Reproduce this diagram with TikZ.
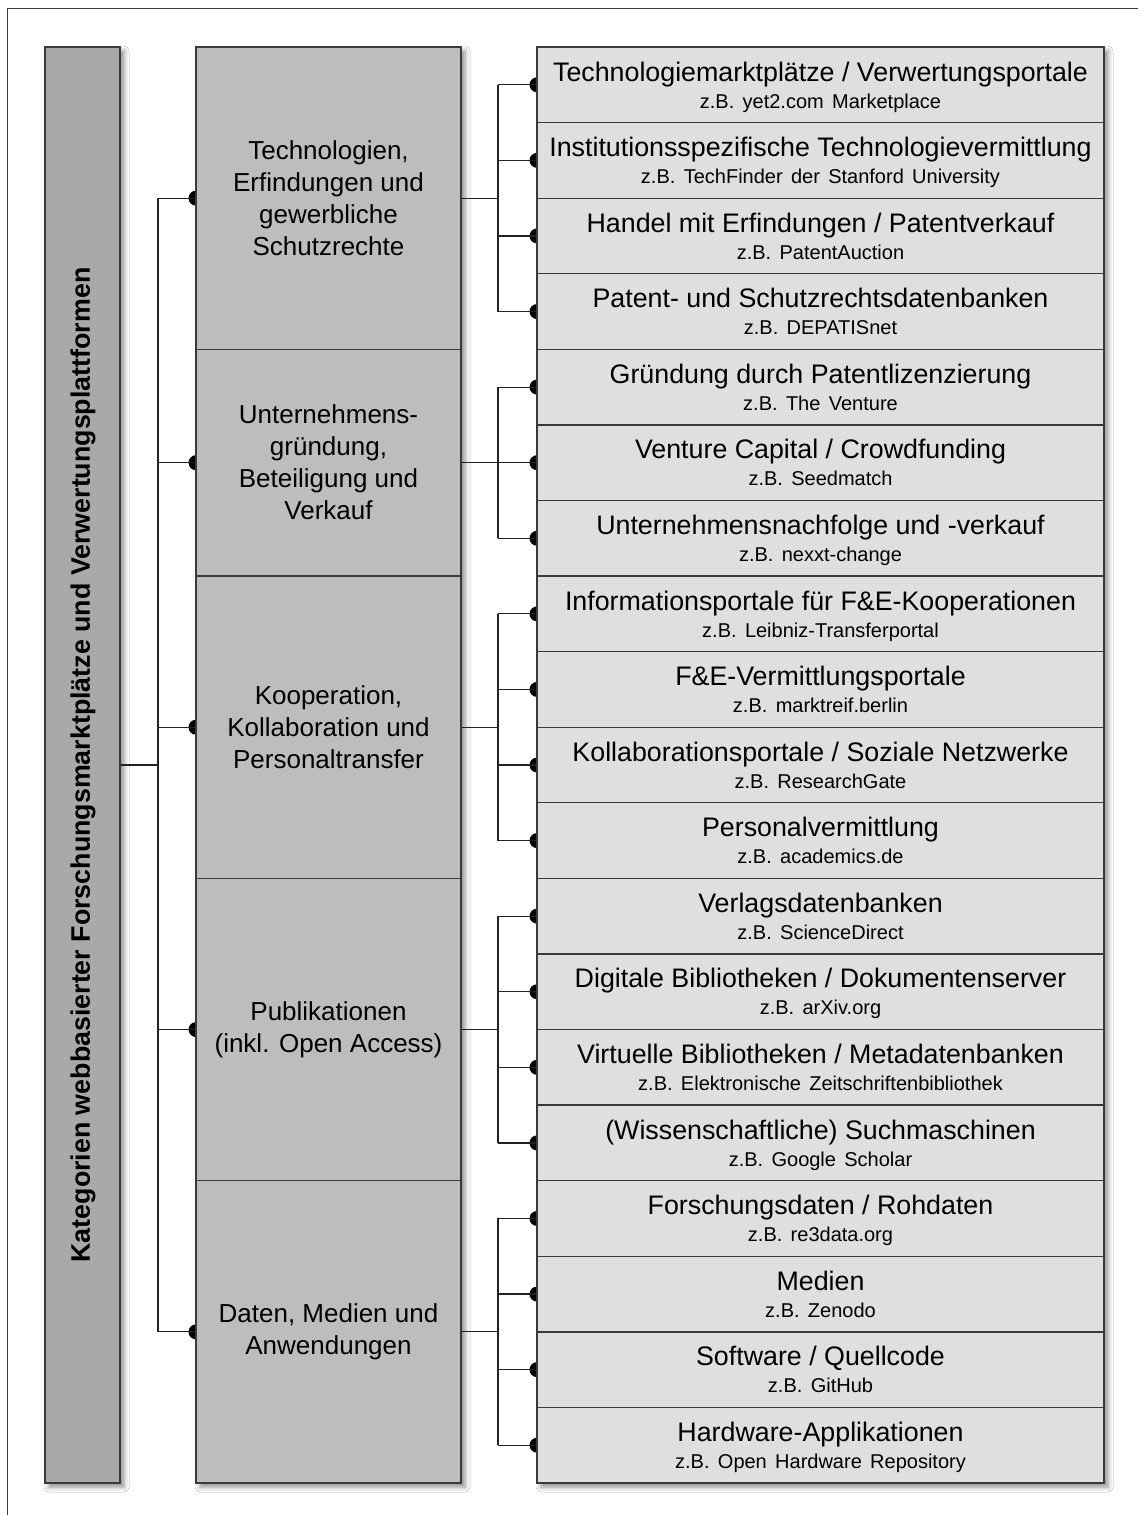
\documentclass[tikz,border=0pt]{standalone}
\usepackage{fontspec}
\setmainfont{Liberation Sans}
\newfontfamily\subfont[WordSpace=1.5]{Liberation Sans}
\usetikzlibrary{shadows.blur}

\definecolor{barfill}{HTML}{A9A9A9}
\definecolor{catfill}{HTML}{BDBDBD}
\definecolor{itemfill}{HTML}{DFDFDF}
\definecolor{edgegray}{HTML}{3A3A3A}
\definecolor{wire}{HTML}{222222}

\tikzset{
  colshadow/.style={fill=white, blur shadow={shadow xshift=4pt, shadow yshift=-4pt,
      shadow blur radius=5pt, shadow opacity=45}},
  barbox/.style={draw=edgegray, line width=1.3pt, fill=barfill, inner sep=0pt,
      minimum width=75pt, minimum height=1436pt},
  catbox/.style={draw=edgegray, line width=1.3pt, fill=catfill, inner sep=0pt,
      minimum width=265pt, align=center, font=\fontsize{26}{32}\selectfont},
  itembox/.style={draw=edgegray, line width=1.3pt, fill=itemfill, inner sep=0pt,
      minimum width=567pt, minimum height=75.579pt},
  titletext/.style={anchor=base, inner sep=0pt, font=\fontsize{26.8}{30}\selectfont},
  subtext/.style={anchor=base, inner sep=0pt, font=\subfont\fontsize{20}{23}\selectfont},
  wireline/.style={draw=wire, line width=1.2pt},
  joint/.style={fill=black},
}

% one entry of the right-hand column: index, title, example
\newcommand\itemrow[3]{%
  \node[itembox] (r#1) at (820.5, {47+(#1+0.5)*75.579}) {};
  \node[titletext] (t#1) at (820.5, {47+#1*75.579+34}) {#2};
  \node[subtext] (s#1) at (820.5, {47+#1*75.579+61}) {#3};
}

\begin{document}
\begin{tikzpicture}[x=1pt, y=-1pt]
\useasboundingbox (0,0) rectangle (1138,1515);
\fill[white] (0,0) rectangle (1138,1515);

% frame
\draw[edgegray, line width=1.3pt] (7.5,1515) -- (7.5,8.5) -- (1138,8.5);

% positions of the category sections (top edges)
\def\ya{47}\def\yb{349.3}\def\yc{576.05}\def\yd{878.4}\def\ye{1180.7}\def\yf{1483}

% trunk and hubs
\coordinate (trunk) at (158,765);
\coordinate (hub1) at (498,{(\ya+\yb)/2});
\coordinate (hub2) at (498,{(\yb+\yc)/2});
\coordinate (hub3) at (498,{(\yc+\yd)/2});
\coordinate (hub4) at (498,{(\yd+\ye)/2});
\coordinate (hub5) at (498,{(\ye+\yf)/2});

% joints at the left edges (half hidden behind the boxes)
\foreach \i in {1,...,5} \fill[joint] (196, {\ifcase\i\or (\ya+\yb)/2\or (\yb+\yc)/2\or (\yc+\yd)/2\or (\yd+\ye)/2\or (\ye+\yf)/2\fi}) circle (7.5);
\foreach \k in {0,...,18} \fill[joint] (537, {47+(\k+0.5)*75.579}) circle (7.5);

% column backgrounds carrying the shadows
\path[colshadow] (45,47) rectangle (120,1483);
\path[colshadow] (196,47) rectangle (461,1483);
\path[colshadow] (537,47) rectangle (1104,1483);

% left bar
\node[barbox] (bar) at (82.5,765) {};
\node[rotate=90, font=\bfseries\fontsize{26.8}{30}\selectfont] (bartext) at (83,765)
  {Kategorien webbasierter Forschungsmarktplätze und Verwertungsplattformen};

% category sections
\node[catbox, minimum height={\yb-\ya}] (c1) at (328.5,{(\ya+\yb)/2})
  {Technologien,\\Erfindungen und\\gewerbliche\\Schutzrechte};
\node[catbox, minimum height={\yc-\yb}] (c2) at (328.5,{(\yb+\yc)/2})
  {Unternehmens-\\gründung,\\Beteiligung und\\Verkauf};
\node[catbox, minimum height={\yd-\yc}] (c3) at (328.5,{(\yc+\yd)/2})
  {Kooperation,\\Kollaboration und\\Personaltransfer};
\node[catbox, minimum height={\ye-\yd}] (c4) at (328.5,{(\yd+\ye)/2})
  {Publikationen\\(inkl. Open Access)};
\node[catbox, minimum height={\yf-\ye}] (c5) at (328.5,{(\ye+\yf)/2})
  {Daten, Medien und\\Anwendungen};

% platform types
\itemrow{0}{Technologiemarktplätze / Verwertungsportale}{z.B. yet2.com Marketplace}
\itemrow{1}{Institutionsspezifische Technologievermittlung}{z.B. TechFinder der Stanford University}
\itemrow{2}{Handel mit Erfindungen / Patentverkauf}{z.B. PatentAuction}
\itemrow{3}{Patent- und Schutzrechtsdatenbanken}{z.B. DEPATISnet}
\itemrow{4}{Gründung durch Patentlizenzierung}{z.B. The Venture}
\itemrow{5}{Venture Capital / Crowdfunding}{z.B. Seedmatch}
\itemrow{6}{Unternehmensnachfolge und -verkauf}{z.B. nexxt-change}
\itemrow{7}{Informationsportale für F\&E-Kooperationen}{z.B. Leibniz-Transferportal}
\itemrow{8}{F\&E-Vermittlungsportale}{z.B. marktreif.berlin}
\itemrow{9}{Kollaborationsportale / Soziale Netzwerke}{z.B. ResearchGate}
\itemrow{10}{Personalvermittlung}{z.B. academics.de}
\itemrow{11}{Verlagsdatenbanken}{z.B. ScienceDirect}
\itemrow{12}{Digitale Bibliotheken / Dokumentenserver}{z.B. arXiv.org}
\itemrow{13}{Virtuelle Bibliotheken / Metadatenbanken}{z.B. Elektronische Zeitschriftenbibliothek}
\itemrow{14}{(Wissenschaftliche) Suchmaschinen}{z.B. Google Scholar}
\itemrow{15}{Forschungsdaten / Rohdaten}{z.B. re3data.org}
\itemrow{16}{Medien}{z.B. Zenodo}
\itemrow{17}{Software / Quellcode}{z.B. GitHub}
\itemrow{18}{Hardware-Applikationen}{z.B. Open Hardware Repository}

% connectors: bar to categories
\draw[wireline] (bar.east |- trunk) -- (trunk);
\draw[wireline] (trunk |- c1.west) -- (trunk |- c5.west);
\foreach \c in {1,...,5} \draw[wireline] (trunk |- c\c.west) -- (c\c.west);

% connectors: categories to platform types
\foreach \c/\a/\b in {1/0/3, 2/4/6, 3/7/10, 4/11/14, 5/15/18} {
  \draw[wireline] (c\c.east) -- (hub\c);
  \draw[wireline] (hub\c |- r\a.west) -- (hub\c |- r\b.west);
  \foreach \k in {\a,...,\b} \draw[wireline] (hub\c |- r\k.west) -- (r\k.west);
}
\end{tikzpicture}
\end{document}
